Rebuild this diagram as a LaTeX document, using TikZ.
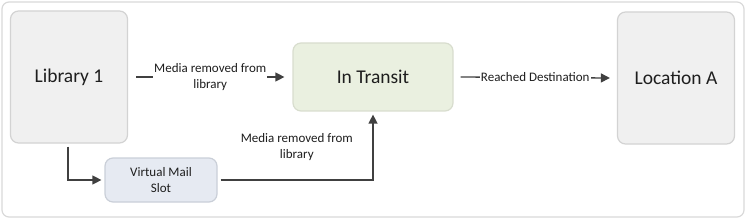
\documentclass[tikz,border=0pt]{standalone}
\usepackage{fontspec}
\setmainfont{Carlito}
\usetikzlibrary{arrows.meta}
\definecolor{framegray}{HTML}{D9D9D9}
\definecolor{boxfill}{HTML}{F0F0F0}
\definecolor{boxline}{HTML}{D3D3D3}
\definecolor{transitfill}{HTML}{EAF0E0}
\definecolor{transitline}{HTML}{D8DDCE}
\definecolor{slotfill}{HTML}{E6EAF2}
\definecolor{slotline}{HTML}{CACFD8}
\definecolor{arrowgray}{HTML}{404040}
\definecolor{textgray}{HTML}{1E1E1E}
\tikzset{
  statebox/.style={draw=boxline, fill=boxfill, line width=1.2pt, rounded corners=8pt,
    text=textgray, font=\fontsize{19.5}{23}\selectfont},
  bigbox/.style={statebox, minimum width=117pt, minimum height=132pt},
  transitbox/.style={statebox, draw=transitline, fill=transitfill, minimum width=160pt, minimum height=68pt},
  slotbox/.style={statebox, draw=slotline, fill=slotfill, minimum width=112pt, minimum height=44pt,
    align=center, font=\fontsize{13}{15.5}\selectfont},
  flow/.style={draw=arrowgray, line width=1.3pt, -{Triangle[length=9pt,width=9pt]}},
  lbl/.style={fill=white, inner sep=1pt, align=center, text=textgray, font=\fontsize{13}{15.5}\selectfont}
}

\begin{document}
\begin{tikzpicture}[x=1pt,y=-1pt]
\useasboundingbox (0,0) rectangle (746,219);
\draw[framegray, line width=1.2pt, rounded corners=7pt] (2,2) rectangle (744,217);

% states
\node[bigbox] (lib) at (69,77) {Library 1};
\node[transitbox] (transit) at (373,77) {In Transit};
\node[bigbox] (loc) at (676,78) {Location A};
\node[slotbox] (vms) at (161,180) {Virtual Mail\\Slot};

% transitions
\draw[flow] ([xshift=8pt]lib.east) -- node[lbl] {Media removed from\\library} ([xshift=-8pt]transit.west);
\draw[flow] ([xshift=7pt]transit.east) -- node[lbl] {Reached Destination} ([xshift=-7pt]loc.west);
\draw[flow] ([xshift=-1pt,yshift=-3pt]lib.south) |- ([xshift=-3pt]vms.west);
\draw[flow] ([xshift=3pt]vms.east) -| node[pos=0.25, above=18pt, lbl] {Media removed from\\library} ([yshift=-3pt]transit.south);
\end{tikzpicture}
\end{document}
